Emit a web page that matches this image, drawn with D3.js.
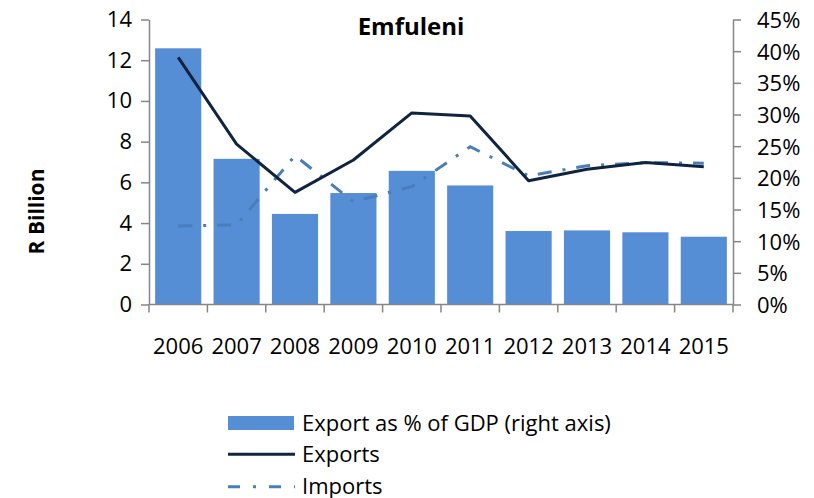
<!DOCTYPE html>
<html>
<head>
<meta charset="utf-8">
<script src="https://cdn.jsdelivr.net/npm/d3@7"></script>
<style>
  html, body { margin: 0; padding: 0; background: #fff; }
  svg { display: block; font-family: "Open Sans", sans-serif; }
</style>
</head>
<body>
<svg id="chart" width="814" height="498"></svg>
<script>
const years = ["2006","2007","2008","2009","2010","2011","2012","2013","2014","2015"];
const exportPctGdp = [0.4045, 0.230, 0.143, 0.176, 0.211, 0.188, 0.116, 0.117, 0.114, 0.107];
const exportsRb = [12.14, 7.88, 5.51, 7.10, 9.41, 9.26, 6.08, 6.64, 6.97, 6.77];
const importsRb = [3.86, 3.91, 7.31, 5.05, 5.79, 7.75, 6.32, 6.82, 6.97, 6.94];
const leftTicks = [0, 2, 4, 6, 8, 10, 12, 14];
const rightTicks = [0, 0.05, 0.10, 0.15, 0.20, 0.25, 0.30, 0.35, 0.40, 0.45];
const title = "Emfuleni";
const yTitle = "R Billion";
const legendLabels = ["Export as % of GDP (right axis)", "Exports", "Imports"];

const svg = d3.select("#chart");
const M = { left: 149, right: 733, top: 19.5, bottom: 304.5 };
const axisColor = "#868686";
const barColor = "#558ED5";
const expColor = "#10243F";
const impColor = "#4A7EBB";
const impDash = "14,11,3,11";
const FS = 22;

const x = d3.scaleBand().domain(years).range([M.left, M.right])
  .paddingInner(0.21).paddingOuter(0.105);
const yL = d3.scaleLinear().domain([0, 14]).range([M.bottom, M.top]);
const yR = d3.scaleLinear().domain([0, 0.45]).range([M.bottom, M.top]);

// bars
svg.append("g").selectAll("rect").data(years).join("rect")
  .attr("x", d => x(d))
  .attr("width", x.bandwidth())
  .attr("y", (d, i) => yR(exportPctGdp[i]))
  .attr("height", (d, i) => M.bottom - yR(exportPctGdp[i]))
  .attr("fill", barColor);

// lines
const cx = d => x(d) + x.bandwidth() / 2;
const lineL = d3.line().x(d => cx(d.y)).y(d => yL(d.v));
svg.append("path")
  .datum(years.map((y, i) => ({ y, v: importsRb[i] })))
  .attr("d", lineL).attr("fill", "none")
  .attr("stroke", impColor).attr("stroke-width", 3)
  .attr("stroke-dasharray", impDash);
svg.append("path")
  .datum(years.map((y, i) => ({ y, v: exportsRb[i] })))
  .attr("d", lineL).attr("fill", "none")
  .attr("stroke", expColor).attr("stroke-width", 3)
  .attr("stroke-linejoin", "round");

// left axis
const gL = svg.append("g").attr("transform", `translate(${M.left},0)`)
  .call(d3.axisLeft(yL).tickValues(leftTicks).tickSize(8).tickSizeOuter(0).tickPadding(9));
// right axis
const gR = svg.append("g").attr("transform", `translate(${M.right},0)`)
  .call(d3.axisRight(yR).tickValues(rightTicks).tickSize(8).tickSizeOuter(0).tickPadding(16)
    .tickFormat(d3.format(".0%")));
[gL, gR].forEach(g => {
  g.select(".domain").attr("stroke", axisColor).attr("stroke-width", 1.5);
  g.selectAll(".tick line").attr("stroke", axisColor).attr("stroke-width", 1.5);
  g.selectAll(".tick text").attr("fill", "#000").attr("font-size", FS)
    .attr("font-family", "Open Sans, sans-serif");
});
gR.selectAll(".tick text").attr("dy", "0.36em");

// bottom axis
const gB = svg.append("g");
gB.append("line").attr("x1", M.left).attr("x2", M.right)
  .attr("y1", M.bottom).attr("y2", M.bottom)
  .attr("stroke", axisColor).attr("stroke-width", 1.5);
const bounds = [...years.map(d => x(d) - x.step() * x.paddingInner() / 2), M.right];
bounds[0] = M.left;
gB.selectAll("line.tk").data(bounds).join("line").attr("class", "tk")
  .attr("x1", d => d).attr("x2", d => d)
  .attr("y1", M.bottom).attr("y2", M.bottom + 8)
  .attr("stroke", axisColor).attr("stroke-width", 1.5);
gB.selectAll("text").data(years).join("text")
  .attr("x", d => cx(d)).attr("y", 354)
  .attr("text-anchor", "middle").attr("font-size", FS).attr("fill", "#000")
  .text(d => d);

// title
svg.append("text").attr("x", 411).attr("y", 35).attr("text-anchor", "middle")
  .attr("font-size", 24).attr("font-weight", "bold").attr("fill", "#000").text(title);

// y title
svg.append("text").attr("transform", "translate(44,211.5) rotate(-90)")
  .attr("text-anchor", "middle").attr("font-size", 21).attr("font-weight", "bold")
  .attr("fill", "#000").text(yTitle);

// legend
const lg = svg.append("g");
lg.append("rect").attr("x", 228).attr("y", 416).attr("width", 66).attr("height", 14).attr("fill", barColor);
lg.append("line").attr("x1", 228).attr("x2", 295).attr("y1", 454.3).attr("y2", 454.3)
  .attr("stroke", expColor).attr("stroke-width", 3);
lg.append("line").attr("x1", 228).attr("x2", 295).attr("y1", 486.7).attr("y2", 486.7)
  .attr("stroke", impColor).attr("stroke-width", 3).attr("stroke-dasharray", "12,13,3,13");
const ly = [430.5, 462, 493.5];
lg.selectAll("text").data(legendLabels).join("text")
  .attr("x", 302).attr("y", (d, i) => ly[i]).attr("font-size", FS).attr("fill", "#000")
  .text(d => d);
</script>
</body>
</html>
